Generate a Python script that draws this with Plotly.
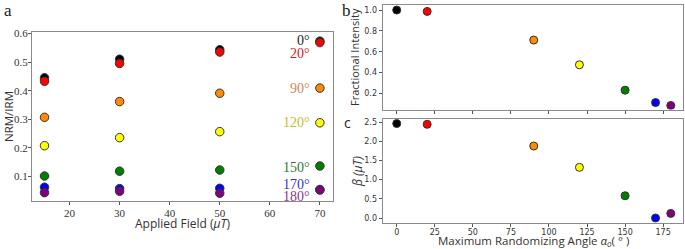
import plotly.graph_objects as go

W, H = 685, 249

fields = [15, 30, 50, 70]
angle_labels = ["0°", "20°", "90°", "120°", "150°", "170°", "180°"]
angles = [0, 20, 90, 120, 150, 170, 180]
colors = ["black", "red", "darkorange", "yellow", "green", "blue", "purple"]
label_colors = ["#222222", "#d02020", "#c98a5c", "#c4bc30", "#2e7a2e", "#3535c8", "#8a368a"]

nrm_0 = [0.445, 0.510, 0.543, 0.573]
nrm_20 = [0.433, 0.495, 0.535, 0.568]
nrm_90 = [0.307, 0.362, 0.391, 0.409]
nrm_120 = [0.208, 0.236, 0.257, 0.288]
nrm_150 = [0.102, 0.119, 0.123, 0.137]
nrm_170 = [0.063, 0.058, 0.059, 0.055]
nrm_180 = [0.044, 0.049, 0.042, 0.053]
nrm_series = [nrm_0, nrm_20, nrm_90, nrm_120, nrm_150, nrm_170, nrm_180]
label_y = [0.575, 0.531, 0.409, 0.288, 0.133, 0.073, 0.030]

frac_intensity = [1.0, 0.987, 0.712, 0.475, 0.232, 0.113, 0.085]
beta = [2.46, 2.44, 1.875, 1.32, 0.58, 0.0, 0.12]

fig = go.Figure()

for vals, c, name in zip(nrm_series, colors, angle_labels):
    fig.add_trace(go.Scatter(x=fields, y=vals, mode="markers", name=name,
                             marker=dict(color=c, size=8.5, line=dict(color="#333", width=1)),
                             xaxis="x", yaxis="y", showlegend=False))

for a, v, c in zip(angles, frac_intensity, colors):
    fig.add_trace(go.Scatter(x=[a], y=[v], mode="markers",
                             marker=dict(color=c, size=8, line=dict(color="#333", width=1)),
                             xaxis="x2", yaxis="y2", showlegend=False))
for a, v, c in zip(angles, beta, colors):
    fig.add_trace(go.Scatter(x=[a], y=[v], mode="markers",
                             marker=dict(color=c, size=8, line=dict(color="#333", width=1)),
                             xaxis="x3", yaxis="y3", showlegend=False))

axis_common = dict(showgrid=False, zeroline=False, showline=True, mirror=True, automargin=False,
                   linecolor="#8a8a8a", linewidth=1.2, ticks="outside", ticklen=3,
                   tickcolor="#555")

serif_tick = dict(family="Liberation Serif, DejaVu Serif, serif", size=11, color="#333")
sans_tick = dict(family="DejaVu Sans, sans-serif", size=8, color="#333")

fig.update_layout(
    template="none",
    width=W, height=H, margin=dict(l=0, r=0, t=0, b=0),
    paper_bgcolor="white", plot_bgcolor="white",
    xaxis=dict(domain=[0.0467, 0.486], range=[12.5, 72.6], tickvals=[20, 30, 40, 50, 60, 70],
               anchor="y", tickfont=serif_tick, ticklabelstandoff=-1, **axis_common),
    yaxis=dict(domain=[0.193, 0.8715], range=[0.015, 0.605],
               tickvals=[0.1, 0.2, 0.3, 0.4, 0.5, 0.6], ticktext=["0.1", "0.2", "0.3", "0.4", "0.5", "0.6"],
               anchor="x", tickfont=serif_tick, ticklabelstandoff=-2, **axis_common),
    xaxis2=dict(domain=[0.5587, 0.997], range=[-9.2, 188], tickvals=[0, 25, 50, 75, 100, 125, 150, 175],
                showticklabels=False, anchor="y2", **axis_common),
    yaxis2=dict(domain=[0.56, 0.981], range=[0.046, 1.051], tickvals=[0.2, 0.4, 0.6, 0.8, 1.0],
                ticktext=["0.2", "0.4", "0.6", "0.8", "1.0"],
                anchor="x2", tickfont=sans_tick, **axis_common),
    xaxis3=dict(domain=[0.5587, 0.997], range=[-9.2, 188], tickvals=[0, 25, 50, 75, 100, 125, 150, 175],
                anchor="y3", tickfont=sans_tick, ticklabelstandoff=-1, **axis_common),
    yaxis3=dict(domain=[0.1056, 0.522], range=[-0.122, 2.578], tickvals=[0, 0.5, 1.0, 1.5, 2.0, 2.5],
                ticktext=["0.0", "0.5", "1.0", "1.5", "2.0", "2.5"],
                anchor="x3", tickfont=sans_tick, **axis_common),
)

annotations = []
for txt, y, c in zip(angle_labels, label_y, label_colors):
    annotations.append(dict(x=68.4, y=y, xref="x", yref="y", text=txt, showarrow=False,
                            xanchor="right", yanchor="middle",
                            font=dict(family="Liberation Serif, DejaVu Serif, serif", size=14, color=c)))


def paper_text(px, py, text, font, angle=0):
    return dict(x=px / W, y=1 - py / H, xref="paper", yref="paper", text=text, showarrow=False,
                xanchor="center", yanchor="middle", textangle=angle, font=font)


sans = "Open Sans, Liberation Sans, sans-serif"
annotations += [
    paper_text(8, 11, "a", dict(family="Liberation Serif, serif", size=17, color="#222")),
    paper_text(346, 10, "b", dict(family="Liberation Serif, serif", size=17, color="#222")),
    paper_text(347, 122, "c", dict(family=sans, size=14, color="#222")),
    paper_text(8, 117, "NRM/IRM", dict(family=sans, size=11.5, color="#333"), -90),
    paper_text(183, 223, "Applied Field (<i>μT</i>)", dict(family=sans, size=12, color="#333")),
    paper_text(355, 57, "Fractional Intensity", dict(family=sans, size=11, color="#333"), -90),
    paper_text(357, 172, "<i>β (μT)</i>", dict(family=sans, size=12, color="#333"), -90),
    paper_text(533, 241, "Maximum Randomizing Angle <i>α<sub>o</sub></i>( ° )",
               dict(family=sans, size=11.5, color="#333")),
]
fig.update_layout(annotations=annotations)

fig.write_html("out.html", config={"displayModeBar": False},
               post_script="document.body.style.margin='0';document.body.style.padding='0';")
